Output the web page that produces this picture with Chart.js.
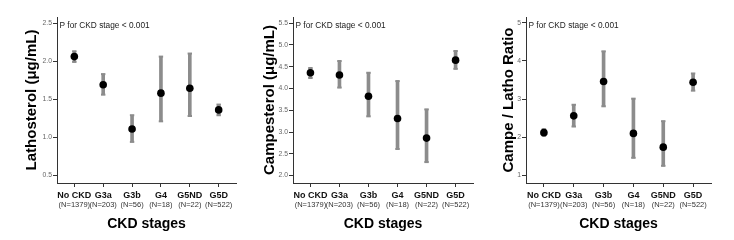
<!DOCTYPE html>
<html>
<head>
<meta charset="utf-8">
<script src="https://cdn.jsdelivr.net/npm/chart.js@4/dist/chart.umd.min.js"></script>
<style>
  body { margin: 0; background: #fff; }
  .panel { position: absolute; top: 0; }
</style>
</head>
<body>
<div class="panel" style="left:0"><canvas id="latho" width="245" height="240"></canvas></div>
<div class="panel" style="left:245px"><canvas id="campe" width="244" height="240"></canvas></div>
<div class="panel" style="left:489px"><canvas id="ratio" width="245" height="240"></canvas></div>
<script>
// categories
const stages = ["No CKD", "G3a", "G3b", "G4", "G5ND", "G5D"];
const counts = ["(N=1379)", "(N=203)", "(N=56)", "(N=18)", "(N=22)", "(N=522)"];
const pLabel = "P for CKD stage < 0.001";

// Lathosterol (µg/mL)
const lathoMean = [2.06, 1.69, 1.11, 1.58, 1.645, 1.36];
const lathoLow = [1.99, 1.56, 0.94, 1.21, 1.28, 1.29];
const lathoHigh = [2.13, 1.83, 1.29, 2.06, 2.10, 1.43];

// Campesterol (µg/mL)
const campeMean = [4.36, 4.31, 3.82, 3.31, 2.86, 4.65];
const campeLow = [4.24, 4.02, 3.36, 2.61, 2.31, 4.45];
const campeHigh = [4.47, 4.63, 4.36, 4.17, 3.52, 4.86];

// Campe / Latho ratio
const ratioMean = [2.12, 2.56, 3.46, 2.10, 1.74, 3.44];
const ratioLow = [2.04, 2.28, 2.81, 1.46, 1.25, 3.22];
const ratioHigh = [2.21, 2.85, 4.25, 3.01, 2.42, 3.67];

const FONT = '"Liberation Sans", Arial, sans-serif';
const barGray = "#8c8c8c";
const axisColor = "#333";

// P value note in top-left of plot area
const pText = {
  id: "pText",
  afterDraw(chart) {
    const { ctx, chartArea } = chart;
    ctx.save();
    ctx.font = "8.3px " + FONT;
    ctx.fillStyle = "#222";
    ctx.textBaseline = "middle";
    ctx.fillText(pLabel, chartArea.left + 2.5, chartArea.top + 9);
    ctx.restore();
  },
};

function makePanel(id, p) {
  const pts = (arr) => arr.map((v, i) => ({ x: i, y: v }));
  return new Chart(document.getElementById(id), {
    type: "bar",
    data: {
      datasets: [
        {
          type: "line",
          data: pts(p.mean),
          showLine: false,
          pointRadius: 3.8,
          pointBackgroundColor: "#000",
          pointBorderWidth: 0,
          order: 0,
        },
        {
          // small end caps of the interval bars
          type: "line",
          data: pts(p.low).concat(pts(p.high)),
          showLine: false,
          pointStyle: "line",
          pointRadius: 2.2,
          pointBorderWidth: 2,
          pointBorderColor: barGray,
          order: 1,
        },
        {
          data: stages.map((s, i) => ({ x: i, y: [p.low[i], p.high[i]] })),
          backgroundColor: barGray,
          borderWidth: 0,
          barThickness: 3,
          order: 2,
        },
      ],
    },
    options: {
      responsive: false,
      animation: false,
      devicePixelRatio: 1,
      layout: { padding: { left: p.padLeft, right: p.padRight, top: 17, bottom: 7 } },
      plugins: { legend: { display: false }, tooltip: { enabled: false } },
      scales: {
        x: {
          type: "linear",
          position: "bottom",
          min: -0.6,
          max: 5.6,
          offset: false,
          weight: 1,
          afterFit: (s) => { s.height = 17.5; },
          grid: { drawOnChartArea: false, offset: false, tickLength: 4, color: axisColor },
          border: { color: axisColor, width: 1 },
          ticks: {
            stepSize: 1,
            includeBounds: false,
            maxRotation: 0,
            autoSkip: false,
            padding: 3.5,
            color: "#111",
            font: { family: FONT, size: 9, weight: "bold" },
            callback: (v) => stages[Math.round(v)],
          },
        },
        x2: {
          type: "linear",
          position: "bottom",
          min: -0.6,
          max: 5.6,
          offset: false,
          weight: 2,
          afterFit: (s) => { s.height = 32.5; },
          grid: { display: false, drawTicks: false },
          border: { display: false },
          ticks: {
            stepSize: 1,
            includeBounds: false,
            maxRotation: 0,
            autoSkip: false,
            padding: 0,
            color: "#333",
            font: { family: FONT, size: 7.5 },
            callback: (v) => counts[Math.round(v)],
          },
          title: {
            display: true,
            text: "CKD stages",
            color: "#000",
            padding: { top: 7, bottom: 0 },
            font: { family: FONT, size: 14, weight: "bold" },
          },
        },
        y: {
          min: p.yMin,
          max: p.yMax,
          afterFit: (s) => { s.width = p.plotLeft - p.padLeft; },
          grid: { drawOnChartArea: false, tickLength: 4, color: axisColor },
          border: { color: axisColor, width: 1 },
          ticks: {
            stepSize: p.yStep,
            includeBounds: false,
            padding: 1,
            color: "#666",
            font: { family: FONT, size: 6.8 },
            callback: (v) => v.toFixed(p.decimals),
          },
          title: {
            display: true,
            text: p.yTitle,
            color: "#000",
            padding: 0,
            font: { family: FONT, size: 15, weight: "bold" },
          },
        },
      },
    },
    plugins: [pText],
  });
}

makePanel("latho", {
  mean: lathoMean, low: lathoLow, high: lathoHigh,
  yTitle: "Lathosterol (μg/mL)", yMin: 0.4, yMax: 2.58, yStep: 0.5, decimals: 1,
  plotLeft: 57, padLeft: 23, padRight: 9,
});

makePanel("campe", {
  mean: campeMean, low: campeLow, high: campeHigh,
  yTitle: "Campesterol (μg/mL)", yMin: 1.83, yMax: 5.64, yStep: 0.5, decimals: 1,
  plotLeft: 48, padLeft: 16, padRight: 16,
});

makePanel("ratio", {
  mean: ratioMean, low: ratioLow, high: ratioHigh,
  yTitle: "Campe / Latho Ratio", yMin: 0.8, yMax: 5.15, yStep: 1, decimals: 0,
  plotLeft: 37, padLeft: 11, padRight: 23,
});
</script>
</body>
</html>
